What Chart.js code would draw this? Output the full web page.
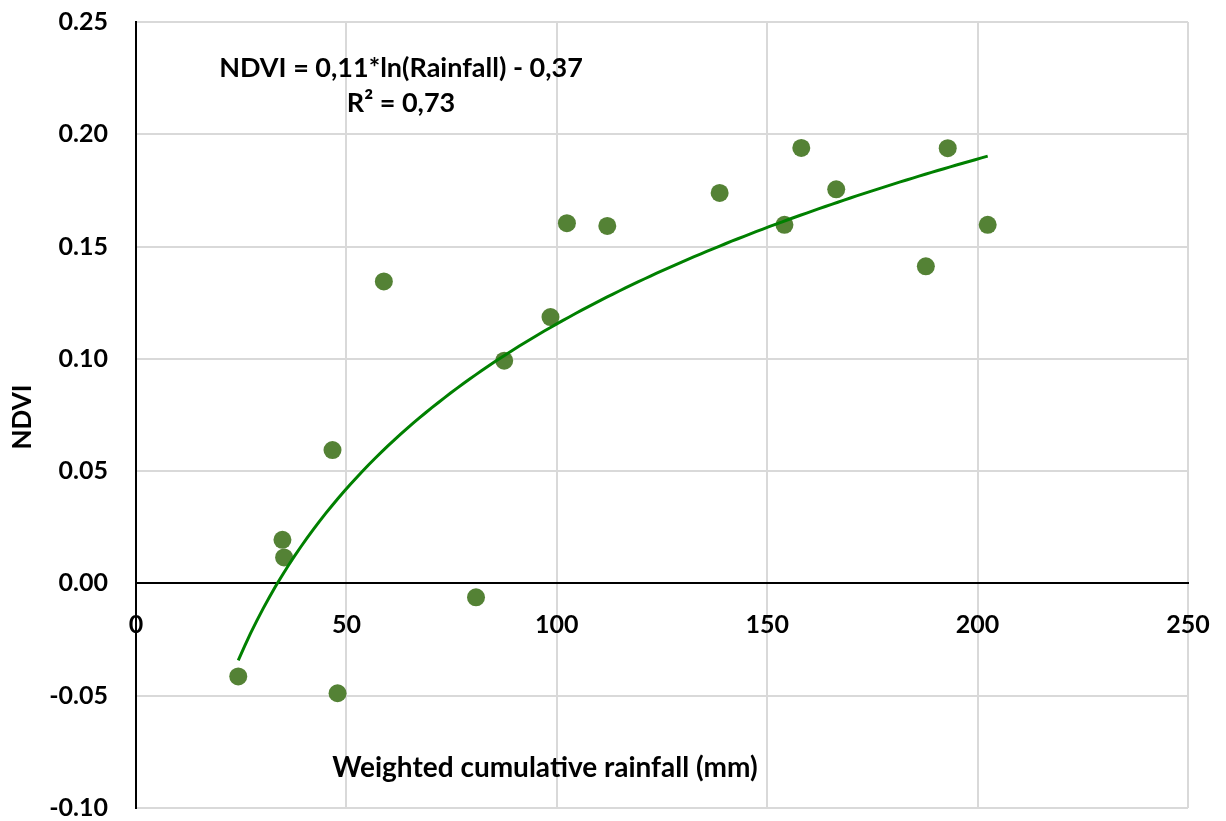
<!DOCTYPE html>
<html>
<head>
<meta charset="utf-8">
<script src="https://cdn.jsdelivr.net/npm/chart.js@4.4.1/dist/chart.umd.min.js"></script>
<style>
  html, body { margin: 0; padding: 0; background: #fff; }
  #wrap { width: 1226px; height: 821px; }
</style>
</head>
<body>
<div id="wrap"><canvas id="ndviChart"></canvas></div>
<script>
  // Weighted cumulative rainfall (mm) vs NDVI
  const rainfall = [24.3, 34.8, 35.2, 46.7, 47.9, 58.9, 80.8, 87.5, 98.5, 102.4, 112.0, 138.7, 154.1, 158.1, 166.4, 187.7, 192.9, 202.4];
  const ndvi = [-0.0414, 0.0194, 0.0116, 0.0594, -0.0489, 0.1345, -0.0062, 0.0992, 0.1186, 0.1604, 0.1592, 0.1739, 0.1597, 0.1939, 0.1755, 0.1412, 0.1938, 0.1597];
  const xTicks = [0, 50, 100, 150, 200, 250];
  const yTicks = [-0.10, -0.05, 0.00, 0.05, 0.10, 0.15, 0.20, 0.25];
  const equationLines = ['NDVI = 0,11*ln(Rainfall) - 0,37', 'R² = 0,73'];
  const xTitle = 'Weighted cumulative rainfall (mm)';
  const yTitle = 'NDVI';

  const points = rainfall.map((r, i) => ({ x: r, y: ndvi[i] }));

  // least-squares fit of ndvi = a*ln(x) + b (Excel logarithmic trendline)
  const lx = rainfall.map(Math.log);
  const n = lx.length;
  const mx = lx.reduce((s, v) => s + v, 0) / n;
  const my = ndvi.reduce((s, v) => s + v, 0) / n;
  let sxy = 0, sxx = 0;
  lx.forEach((v, i) => { sxy += (v - mx) * (ndvi[i] - my); sxx += (v - mx) * (v - mx); });
  const slope = sxy / sxx;
  const icpt = my - slope * mx;
  const xMin = Math.min(...rainfall), xMax = Math.max(...rainfall);
  const trend = [];
  for (let k = 0; k <= 120; k++) {
    const x = xMin + (xMax - xMin) * k / 120;
    trend.push({ x: x, y: slope * Math.log(x) + icpt });
  }

  const FONT = 'Lato, "Open Sans", sans-serif';

  const textPlugin = {
    id: 'texts',
    afterDraw(chart) {
      const { ctx } = chart;
      ctx.save();
      ctx.fillStyle = '#000';
      ctx.textAlign = 'center';
      ctx.textBaseline = 'middle';
      ctx.font = 'bold 27px ' + FONT;
      ctx.fillText(equationLines[0], 401, 68);
      ctx.fillText(equationLines[1], 401, 103);
      ctx.font = 'bold 28px ' + FONT;
      ctx.fillText(xTitle, 545, 768);
      ctx.font = 'bold 26px ' + FONT;
      ctx.translate(23, 417);
      ctx.rotate(-Math.PI / 2);
      ctx.fillText(yTitle, 0, 0);
      ctx.restore();
    }
  };

  new Chart(document.getElementById('ndviChart').getContext('2d'), {
    type: 'scatter',
    data: {
      datasets: [{
        label: 'NDVI',
        data: points,
        backgroundColor: '#548235',
        borderWidth: 0,
        pointRadius: 9,
        order: 2
      }, {
        label: 'Log trend',
        data: trend,
        showLine: true,
        borderColor: '#008000',
        borderWidth: 3,
        pointRadius: 0,
        fill: false,
        tension: 0,
        order: 1
      }]
    },
    options: {
      responsive: true,
      maintainAspectRatio: false,
      animation: false,
      layout: { padding: { top: 22, right: 38, bottom: 13, left: 0 } },
      scales: {
        x: {
          type: 'linear',
          position: { y: 0 },
          min: 0,
          max: 250,
          afterBuildTicks: (scale) => { scale.ticks = xTicks.map(v => ({ value: v })); },
          afterFit: (scale) => { scale.height = 0; },
          ticks: {
            font: { family: FONT, size: 25, weight: 'bold', lineHeight: 1 },
            color: '#000',
            padding: 0,
            maxRotation: 0
          },
          grid: { color: '#d9d9d9', lineWidth: 2, drawTicks: true, tickLength: 29, tickColor: 'rgba(0,0,0,0)' },
          border: { color: '#000', width: 2 }
        },
        y: {
          type: 'linear',
          min: -0.1,
          max: 0.25,
          afterBuildTicks: (scale) => { scale.ticks = yTicks.map(v => ({ value: v })); },
          afterFit: (scale) => { scale.width = 136; },
          ticks: {
            font: { family: FONT, size: 25, weight: 'bold', lineHeight: 1 },
            color: '#000',
            padding: 0,
            callback: (v) => Number(v).toFixed(2)
          },
          grid: { color: '#d9d9d9', lineWidth: 2, drawTicks: true, tickLength: 28, tickColor: 'rgba(0,0,0,0)' },
          border: { color: '#000', width: 2 }
        }
      },
      plugins: {
        legend: { display: false },
        tooltip: { enabled: false }
      }
    },
    plugins: [textPlugin]
  });
</script>
</body>
</html>
